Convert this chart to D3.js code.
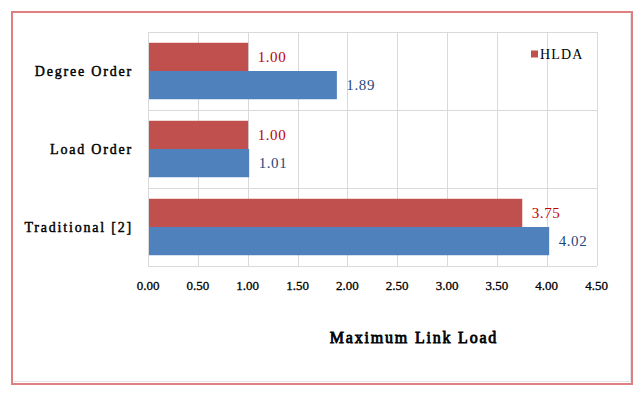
<!DOCTYPE html>
<html lang="en">
<head>
  <meta charset="UTF-8">
  <title>Maximum Link Load</title>
  <script src="https://d3js.org/d3.v7.min.js"></script>
  <style>
    body { margin: 0; background: #fff; }
    svg { display: block; font-family: "Liberation Serif", serif; }
  </style>
</head>
<body>
  <div id="root"></div>
  <script>
    const categories = ['Degree Order', 'Load Order', 'Traditional [2]']
    const hldaValues = [1.00, 1.00, 3.75]
    const otherValues = [1.89, 1.01, 4.02]
    const xTicks = [0, 0.5, 1, 1.5, 2, 2.5, 3, 3.5, 4, 4.5]
    const seriesNames = ['HLDA', 'Other']

    const dimensions = {
      width: 643,
      height: 396,
      margin: { top: 32, right: 46, bottom: 130, left: 148 }
    }
    dimensions.boundedWidth = dimensions.width - dimensions.margin.left - dimensions.margin.right
    dimensions.boundedHeight = dimensions.height - dimensions.margin.top - dimensions.margin.bottom

    const wrapper = d3.select('#root')
      .append('svg')
        .attr('width', dimensions.width)
        .attr('height', dimensions.height)

    // outer frame
    wrapper.append('rect')
      .attr('x', 12).attr('y', 12)
      .attr('width', 620).attr('height', 372)
      .attr('fill', 'none')
      .attr('stroke', '#e07f7f')
      .attr('stroke-width', 2)
    wrapper.append('path')
      .attr('d', 'M630.5 14 V381.5 H14')
      .attr('fill', 'none')
      .attr('stroke', '#e4e4e4')
      .attr('stroke-width', 1)

    const bounds = wrapper.append('g')
      .attr('transform', `translate(${dimensions.margin.left}, ${dimensions.margin.top})`)

    const xScale = d3.scaleLinear()
      .domain([0, 4.5])
      .range([0, dimensions.boundedWidth - 0.5])

    const yScale = d3.scaleBand()
      .domain(categories)
      .range([0, dimensions.boundedHeight])
      .paddingInner(0.276)
      .paddingOuter(0.138)

    const outer = d3.scaleBand()
      .domain(categories)
      .range([0, dimensions.boundedHeight])

    const inner = d3.scaleBand()
      .domain(seriesNames)
      .range([0, yScale.bandwidth()])

    const color = d3.scaleOrdinal()
      .domain(seriesNames)
      .range(['#c0504d', '#4f81bd'])
    const labelColor = d3.scaleOrdinal()
      .domain(seriesNames)
      .range(['#c00000', '#1f497d'])

    // gridlines
    bounds.append('g')
      .selectAll('line.v')
      .data(xTicks)
      .join('line')
        .attr('x1', d => Math.round(xScale(d)) + 0.5)
        .attr('x2', d => Math.round(xScale(d)) + 0.5)
        .attr('y1', 0)
        .attr('y2', dimensions.boundedHeight)
        .attr('stroke', '#d9d9d9')
    bounds.append('g')
      .selectAll('line.h')
      .data([...categories.map(c => outer(c)), dimensions.boundedHeight])
      .join('line')
        .attr('x1', 0)
        .attr('x2', dimensions.boundedWidth)
        .attr('y1', d => Math.round(d) + 0.5)
        .attr('y2', d => Math.round(d) + 0.5)
        .attr('stroke', '#d9d9d9')

    const rows = categories.map((c, i) => [
      { cat: c, series: 'HLDA', value: hldaValues[i] },
      { cat: c, series: 'Other', value: otherValues[i] }
    ]).flat()

    bounds.selectAll('rect.bar')
      .data(rows)
      .join('rect')
        .attr('class', 'bar')
        .attr('x', xScale(0) + 0.5)
        .attr('y', d => yScale(d.cat) + inner(d.series))
        .attr('width', d => xScale(d.value) - xScale(0))
        .attr('height', inner.bandwidth())
        .attr('fill', d => color(d.series))

    // left axis line
    bounds.append('line')
      .attr('x1', 0.5).attr('x2', 0.5)
      .attr('y1', 0).attr('y2', dimensions.boundedHeight)
      .attr('stroke', '#d9d9d9')

    // data labels
    bounds.selectAll('text.val')
      .data(rows)
      .join('text')
        .attr('x', d => xScale(d.value) + 10)
        .attr('y', d => yScale(d.cat) + inner(d.series) + inner.bandwidth() / 2)
        .attr('dy', '0.35em')
        .attr('font-size', 15)
        .attr('letter-spacing', 0.6)
        .attr('fill', d => labelColor(d.series))
        .text(d => d.value.toFixed(2))

    // x tick labels (faux bold: the serif bold face is not installed)
    bounds.selectAll('text.tick')
      .data(xTicks)
      .join('text')
        .attr('x', d => xScale(d))
        .attr('y', dimensions.boundedHeight + 19)
        .attr('dy', '0.35em')
        .attr('text-anchor', 'middle')
        .attr('font-size', 13)
        .attr('fill', '#000')
        .attr('stroke', '#000')
        .attr('stroke-width', 0.3)
        .text(d => d.toFixed(2))

    // category labels
    bounds.selectAll('text.cat')
      .data(categories)
      .join('text')
        .attr('x', -15)
        .attr('y', d => outer(d) + outer.bandwidth() / 2)
        .attr('dy', '0.35em')
        .attr('text-anchor', 'end')
        .attr('font-size', 14)
        .attr('letter-spacing', 1.8)
        .attr('fill', '#000')
        .attr('stroke', '#000')
        .attr('stroke-width', 0.45)
        .text(d => d)

    // axis title
    wrapper.append('text')
      .attr('x', 414)
      .attr('y', 337)
      .attr('dy', '0.35em')
      .attr('text-anchor', 'middle')
      .attr('font-size', 16)
      .attr('letter-spacing', 1.8)
      .attr('fill', '#000')
      .attr('stroke', '#000')
      .attr('stroke-width', 0.8)
      .text('Maximum Link Load')

    // legend (only HLDA shown)
    const legend = wrapper.append('g')
      .attr('transform', 'translate(531, 54)')
    legend.append('rect')
      .attr('x', 0).attr('y', -3.5)
      .attr('width', 7).attr('height', 7)
      .attr('fill', color('HLDA'))
    legend.append('text')
      .attr('x', 9)
      .attr('y', 0)
      .attr('dy', '0.35em')
      .attr('font-size', 14)
      .attr('letter-spacing', 1.2)
      .text('HLDA')
  </script>
</body>
</html>
